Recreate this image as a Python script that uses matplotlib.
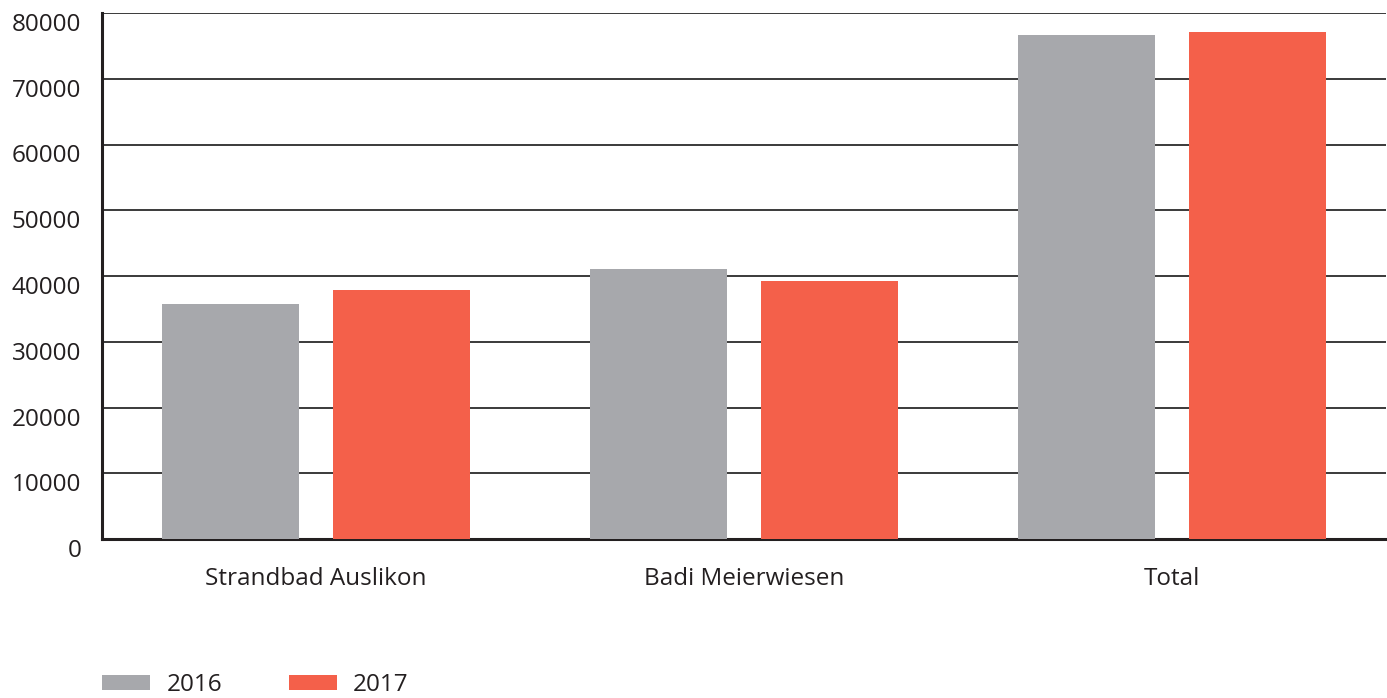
import numpy as np
import matplotlib.pyplot as plt
import matplotlib.transforms as mtransforms

plt.rcParams['font.family'] = ['Open Sans', 'DejaVu Sans']

categories = ["Strandbad Auslikon", "Badi Meierwiesen", "Total"]
years = ["2016", "2017"]
visitors_2016 = [35700, 41000, 76700]
visitors_2017 = [37800, 39300, 77100]

col_2016 = "#A7A8AC"
col_2017 = "#F4604A"
ink = "#231F20"
fs = 17.5

fig = plt.figure(figsize=(13.87, 6.98), dpi=100)
ax = fig.add_axes([102 / 1387, 1 - 539 / 698, 1284 / 1387, 526 / 698])

x = np.arange(len(categories))
w = 0.32
ax.bar(x - 0.2, visitors_2016, w, color=col_2016, label=years[0], zorder=3)
ax.bar(x + 0.2, visitors_2017, w, color=col_2017, label=years[1], zorder=3)

ax.set_xlim(-0.5, 2.5)
ax.set_ylim(0, 80000)
ax.set_yticks(np.arange(0, 80001, 10000))
ax.yaxis.grid(True, color="#2b2b2b", linewidth=1.3, zorder=0)
ax.set_axisbelow(True)

for s in ["top", "right"]:
    ax.spines[s].set_visible(False)
ax.spines["left"].set_linewidth(2.2)
ax.spines["left"].set_color(ink)
ax.spines["bottom"].set_linewidth(2.2)
ax.spines["bottom"].set_color(ink)

ax.tick_params(axis="both", length=0, labelsize=fs, colors=ink)
ax.tick_params(axis="y", pad=15)
ax.tick_params(axis="x", pad=20)
ax.set_xticks(x)
ax.set_xticklabels(categories)

# y labels sit a little below their gridline
shift = mtransforms.ScaledTranslation(0, -9 / 100, fig.dpi_scale_trans)
for lab in ax.get_yticklabels():
    lab.set_transform(lab.get_transform() + shift)

fig.legend(loc="lower left", bbox_to_anchor=(80 / 1387, -0.03), ncol=2,
           frameon=False, fontsize=fs, handlelength=2.0, handleheight=0.62,
           handletextpad=0.65, columnspacing=2.75, labelcolor=ink)

fig.savefig("out.png", dpi=100, facecolor="white")
